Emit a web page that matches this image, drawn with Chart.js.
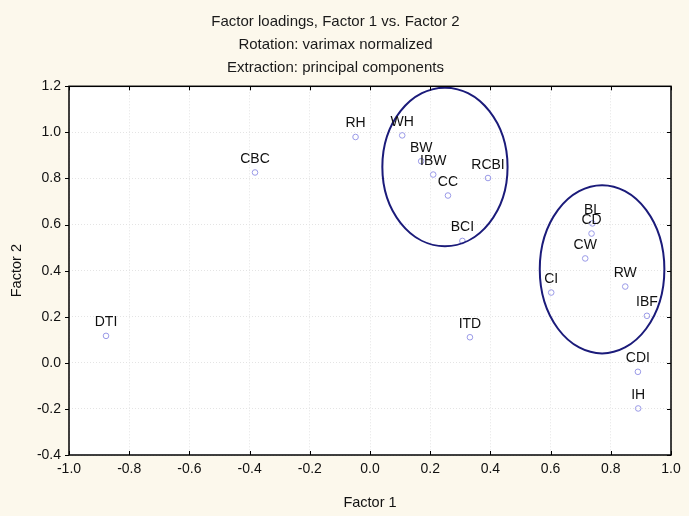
<!DOCTYPE html>
<html>
<head>
<meta charset="utf-8">
<script src="https://cdn.jsdelivr.net/npm/chart.js@4/dist/chart.umd.min.js"></script>
<style>
  html, body { margin: 0; padding: 0; background: #fcf8ec; }
  #wrap { width: 689px; height: 516px; }
</style>
</head>
<body>
<div id="wrap"><canvas id="chart" width="689" height="516"></canvas></div>
<script>
// ── data ──────────────────────────────────────────────────────
const labels  = ["DTI", "CBC", "RH", "WH", "BW", "IBW", "CC", "RCBI", "BCI", "ITD",
                 "BL", "CD", "CW", "CI", "RW", "IBF", "CDI", "IH"];
const factor1 = [-0.877, -0.382, -0.048, 0.107, 0.170, 0.210, 0.259, 0.392, 0.307, 0.332,
                 0.739, 0.736, 0.715, 0.602, 0.848, 0.920, 0.890, 0.891];
const factor2 = [0.117, 0.826, 0.980, 0.987, 0.875, 0.817, 0.726, 0.802, 0.529, 0.111,
                 0.605, 0.561, 0.453, 0.305, 0.331, 0.204, -0.039, -0.198];

// cluster ellipses: centre and radii in loading units
const ellipseCx = [0.249, 0.771];
const ellipseCy = [0.850, 0.406];
const ellipseRx = [0.208, 0.207];
const ellipseRy = [0.344, 0.365];

const titleLines = ["Factor loadings, Factor 1 vs. Factor 2",
                    "Rotation: varimax normalized",
                    "Extraction: principal components"];

const FONT = "Arial, 'Liberation Sans', sans-serif";

// cream page, white plot area
const backdrop = {
  id: "backdrop",
  beforeDraw(chart) {
    const { ctx, chartArea: a } = chart;
    ctx.save();
    ctx.fillStyle = "#fcf8ec";
    ctx.fillRect(0, 0, chart.width, chart.height);
    ctx.fillStyle = "#ffffff";
    ctx.fillRect(a.left, a.top, a.right - a.left, a.bottom - a.top);
    ctx.restore();
  },
};

// ellipses + point labels
const overlay = {
  id: "overlay",
  afterDatasetsDraw(chart) {
    const { ctx } = chart;
    const xs = chart.scales.x, ys = chart.scales.y;
    ctx.save();
    ctx.strokeStyle = "#1b1b7a";
    ctx.lineWidth = 2;
    ellipseCx.forEach((cx, i) => {
      const px = xs.getPixelForValue(cx), py = ys.getPixelForValue(ellipseCy[i]);
      const rx = Math.abs(xs.getPixelForValue(cx + ellipseRx[i]) - px);
      const ry = Math.abs(ys.getPixelForValue(ellipseCy[i] + ellipseRy[i]) - py);
      ctx.beginPath();
      ctx.ellipse(px, py, rx, ry, 0, 0, Math.PI * 2);
      ctx.stroke();
    });

    ctx.fillStyle = "#111";
    ctx.font = "14px " + FONT;
    ctx.textAlign = "center";
    ctx.textBaseline = "alphabetic";
    chart.getDatasetMeta(0).data.forEach((pt, i) => {
      ctx.fillText(labels[i], pt.x, pt.y - 9.5);
    });
    ctx.restore();
  },
};

// frame + short tick marks on all four sides
const frame = {
  id: "frame",
  afterDraw(chart) {
    const { ctx, chartArea: a } = chart;
    const xs = chart.scales.x, ys = chart.scales.y;
    ctx.save();
    ctx.strokeStyle = "#000";
    ctx.lineWidth = 1.5;
    ctx.strokeRect(a.left, a.top, a.right - a.left, a.bottom - a.top);
    ctx.lineWidth = 1;
    ctx.beginPath();
    xs.ticks.forEach((t) => {
      const x = Math.round(xs.getPixelForValue(t.value)) + 0.5;
      ctx.moveTo(x, a.bottom); ctx.lineTo(x, a.bottom - 4);
      ctx.moveTo(x, a.top); ctx.lineTo(x, a.top + 4);
    });
    ys.ticks.forEach((t) => {
      const y = Math.round(ys.getPixelForValue(t.value)) + 0.5;
      ctx.moveTo(a.left, y); ctx.lineTo(a.left - 4, y);
      ctx.moveTo(a.right, y); ctx.lineTo(a.right - 4, y);
    });
    ctx.stroke();
    ctx.restore();
  },
};

const fmt = (v) => {
  const r = Math.round(v * 10) / 10;
  return (r === 0 ? 0 : r).toFixed(1);
};

new Chart(document.getElementById("chart"), {
  type: "scatter",
  data: {
    datasets: [{
      data: factor1.map((x, i) => ({ x, y: factor2[i] })),
      pointStyle: "circle",
      pointRadius: 2.8,
      pointHoverRadius: 2.8,
      pointBorderWidth: 1,
      pointBorderColor: "#9a9ae8",
      pointBackgroundColor: "rgba(0,0,0,0)",
    }],
  },
  options: {
    responsive: false,
    animation: false,
    events: [],
    layout: { padding: { left: 0, right: 18, top: 0, bottom: 0 } },
    plugins: {
      legend: { display: false },
      tooltip: { enabled: false },
      title: {
        display: true,
        text: titleLines,
        color: "#1a1a1a",
        font: { family: FONT, size: 15, weight: "normal", lineHeight: 1.54 },
        padding: { top: 10, bottom: 7 },
      },
    },
    scales: {
      x: {
        type: "linear",
        min: -1, max: 1,
        afterFit: (s) => { s.height = 61; },
        ticks: { stepSize: 0.2, padding: 6, color: "#111", font: { family: FONT, size: 14 }, callback: fmt },
        grid: { color: "#e4e4e4", borderDash: [1, 2], drawTicks: false },
        border: { display: false, dash: [1, 2] },
        title: { display: true, text: "Factor 1", color: "#111", font: { family: FONT, size: 14.5 }, padding: { top: 0, bottom: 4 } },
      },
      y: {
        type: "linear",
        min: -0.4, max: 1.2,
        afterFit: (s) => { s.width = 69; },
        ticks: { stepSize: 0.2, padding: 8, color: "#111", font: { family: FONT, size: 14 }, callback: fmt },
        grid: { color: "#e4e4e4", drawTicks: false },
        border: { display: false, dash: [1, 2] },
        title: { display: true, text: "Factor 2", color: "#111", font: { family: FONT, size: 14.5 }, padding: { top: 8, bottom: 0 } },
      },
    },
  },
  plugins: [backdrop, overlay, frame],
});
</script>
</body>
</html>
